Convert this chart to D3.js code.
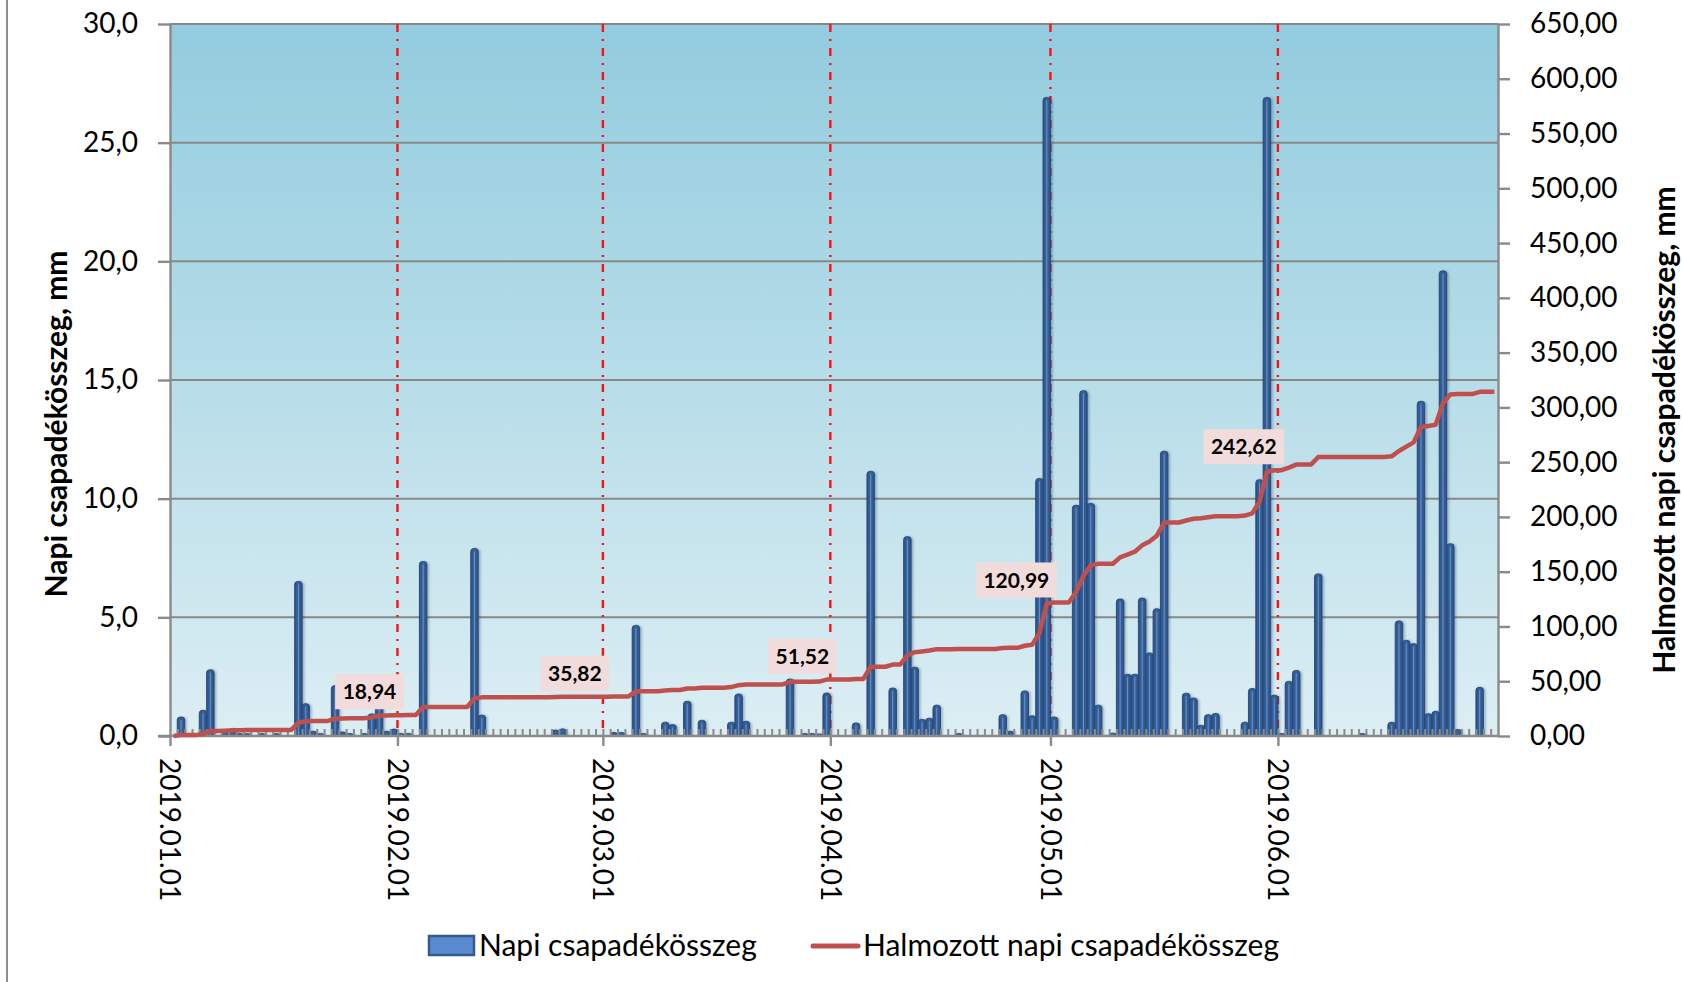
<!DOCTYPE html>
<html>
<head>
<meta charset="utf-8">
<script src="https://cdn.jsdelivr.net/npm/d3@7"></script>
<style>
  html, body { margin: 0; padding: 0; background: #fff; }
  svg { display: block; font-family: Lato, "Open Sans", sans-serif; }
</style>
</head>
<body>
<svg id="chart" width="1683" height="982"></svg>
<script>
// Daily precipitation (mm), one value per day, month by month
const janRain = [0, 0.8, 0, 0, 1.08, 2.79, 0, 0.2, 0.3, 0.1, 0.1, 0, 0.1, 0, 0.1, 0, 0, 6.51, 1.36, 0.2, 0.1, 0, 2.12, 0.17, 0.1, 0, 0.1, 0.93, 1.29, 0.2, 0.29];
const febRain = [0.1, 0.1, 0, 7.35, 0, 0, 0, 0, 0, 0, 7.9, 0.88, 0, 0, 0, 0, 0, 0, 0, 0, 0, 0.25, 0.3, 0, 0, 0, 0, 0];
const marRain = [0, 0.15, 0.15, 0, 4.66, 0.1, 0, 0, 0.58, 0.48, 0, 1.46, 0, 0.66, 0, 0, 0, 0.58, 1.77, 0.62, 0, 0, 0, 0, 0, 2.4, 0, 0.1, 0.1, 0.08, 1.81];
const aprRain = [0, 0, 0, 0.55, 0, 11.15, 0, 0, 2.02, 0, 8.4, 2.9, 0.7, 0.75, 1.3, 0, 0, 0.1, 0, 0, 0, 0, 0, 0.9, 0.2, 0, 1.9, 0.85, 10.85, 26.9];
const mayRain = [0.8, 0, 0, 9.72, 14.55, 9.8, 1.3, 0, 0.12, 5.77, 2.6, 2.6, 5.81, 3.5, 5.36, 12.0, 0, 0, 1.8, 1.6, 0.45, 0.9, 0.95, 0, 0, 0, 0.58, 2.0, 10.8, 26.9, 1.72];
const junRain = [0.1, 2.3, 2.76, 0, 0, 6.83, 0, 0, 0, 0, 0, 0.1, 0, 0, 0, 0.58, 4.85, 4.03, 3.89, 14.1, 0.94, 1.04, 19.6, 8.1, 0.27, 0, 0, 2.05, 0, 0];

// Axis ticks
const leftTicks = [0, 5, 10, 15, 20, 25, 30];
const rightTicks = [0, 50, 100, 150, 200, 250, 300, 350, 400, 450, 500, 550, 600, 650];

// Days whose running total is labelled (month ends)
const labelledDays = ["2019-01-31", "2019-02-28", "2019-03-31", "2019-04-30", "2019-05-31"];

const seriesNames = ["Napi csapadékösszeg", "Halmozott napi csapadékösszeg"];
const leftTitle = "Napi csapadékösszeg, mm";
const rightTitle = "Halmozott napi csapadékösszeg, mm";

const dailyRain = [].concat(janRain, febRain, marRain, aprRain, mayRain, junRain);
const cumulative = Array.from(d3.cumsum(dailyRain));

const start = new Date(Date.UTC(2019, 0, 1));
const end = new Date(Date.UTC(2019, 6, 1));
const days = d3.utcDay.range(start, end);
const monthStarts = d3.utcMonth.range(start, end);

// Layout
const plot = { left: 170, right: 1498, top: 24, bottom: 736 };

const svg = d3.select("#chart");
const x = d3.scaleUtc().domain([start, end]).range([plot.left, plot.right]);
const dayW = x(d3.utcDay.offset(start, 1)) - x(start);
const cx = d => x(d) + dayW / 2;
const yL = d3.scaleLinear().domain([0, 30]).range([plot.bottom, plot.top]);
const yR = d3.scaleLinear().domain([0, 650]).range([plot.bottom, plot.top]);

const comma = (f) => (v) => f(v).replace(".", ",");
const fmt1 = comma(d3.format(".1f"));
const fmt2 = comma(d3.format(".2f"));

const defs = svg.append("defs");
const bg = defs.append("linearGradient").attr("id", "plotBg")
  .attr("x1", 0).attr("y1", 0).attr("x2", 0).attr("y2", 1);
bg.append("stop").attr("offset", "0%").attr("stop-color", "#92ccde");
bg.append("stop").attr("offset", "100%").attr("stop-color", "#dceef4");

const barGrad = defs.append("linearGradient").attr("id", "barFill")
  .attr("x1", 0).attr("y1", 0).attr("x2", 1).attr("y2", 0);
barGrad.append("stop").attr("offset", "0%").attr("stop-color", "#2c5284");
barGrad.append("stop").attr("offset", "50%").attr("stop-color", "#39649e");
barGrad.append("stop").attr("offset", "100%").attr("stop-color", "#2c5284");

const shadow = defs.append("filter").attr("id", "barShadow")
  .attr("x", "-50%").attr("y", "-5%").attr("width", "200%").attr("height", "110%");
shadow.append("feDropShadow").attr("dx", 1.5).attr("dy", 0.5)
  .attr("stdDeviation", 1.3).attr("flood-color", "#1a2a40").attr("flood-opacity", 0.35);

defs.append("clipPath").attr("id", "plotClip").append("rect")
  .attr("x", plot.left).attr("y", plot.top - 10)
  .attr("width", plot.right - plot.left).attr("height", plot.bottom - plot.top + 10);

// Outer frame line
svg.append("line").attr("x1", 7).attr("x2", 7).attr("y1", 0).attr("y2", 982)
  .attr("stroke", "#8e8e8e").attr("stroke-width", 2);

// Plot background
svg.append("rect")
  .attr("x", plot.left).attr("y", plot.top)
  .attr("width", plot.right - plot.left).attr("height", plot.bottom - plot.top)
  .attr("fill", "url(#plotBg)");

// Horizontal gridlines
svg.append("g").selectAll("line")
  .data(leftTicks.filter(t => t > 0))
  .join("line")
  .attr("x1", plot.left).attr("x2", plot.right)
  .attr("y1", d => yL(d)).attr("y2", d => yL(d))
  .attr("stroke", "#888").attr("stroke-width", 2);

// Month separators
svg.append("g").selectAll("line")
  .data(monthStarts.slice(1))
  .join("line")
  .attr("x1", d => x(d)).attr("x2", d => x(d))
  .attr("y1", plot.top).attr("y2", plot.bottom)
  .attr("stroke", "#ff1010").attr("stroke-width", 2.4)
  .attr("stroke-dasharray", "8,7,2,7");

// Daily bars
const barW = dayW * 1.02;
function barPath(x0, w, yTop, yBase) {
  const r = Math.min(3, w / 2, (yBase - yTop));
  return `M${x0},${yBase + 4}V${yTop + r}Q${x0},${yTop} ${x0 + r},${yTop}` +
         `H${x0 + w - r}Q${x0 + w},${yTop} ${x0 + w},${yTop + r}V${yBase + 4}Z`;
}
const barData = days.map((d, i) => ({ date: d, value: dailyRain[i] })).filter(d => d.value > 0);
const bars = svg.append("g").attr("clip-path", "url(#plotClip)")
  .append("g").attr("filter", "url(#barShadow)");
bars.selectAll("path")
  .data(barData)
  .join("path")
  .attr("d", d => barPath(cx(d.date) - barW / 2, barW, yL(d.value), yL(0)))
  .attr("fill", "url(#barFill)")
  .attr("stroke", "#284877").attr("stroke-width", 0.9);
svg.append("g").attr("clip-path", "url(#plotClip)").selectAll("line")
  .data(barData.filter(d => d.value > 0.3))
  .join("line")
  .attr("x1", d => cx(d.date)).attr("x2", d => cx(d.date))
  .attr("y1", d => yL(d.value) + 3).attr("y2", yL(0))
  .attr("stroke", "#6f9fe2").attr("stroke-width", 1).attr("opacity", 0.8);

// Axes
const axisColor = "#8a8a8a";
function styleAxis(g) {
  g.selectAll("path, line").attr("stroke", axisColor).attr("stroke-width", 2.4);
  g.selectAll("text").attr("fill", "#000").style("font-size", "28px")
    .style("font-family", "Lato, 'Open Sans', sans-serif");
}

// Minor day ticks (inside)
svg.append("g").attr("transform", `translate(0,${plot.bottom})`)
  .call(d3.axisBottom(x).tickValues(d3.utcDay.range(d3.utcDay.offset(start, 1), end))
    .tickSize(-7).tickSizeOuter(0).tickFormat(""))
  .call(g => g.select(".domain").remove())
  .call(g => g.selectAll("line").attr("stroke", axisColor).attr("stroke-width", 2));

// Major month ticks with rotated date labels
svg.append("g").attr("transform", `translate(0,${plot.bottom})`)
  .call(d3.axisBottom(x).tickValues(monthStarts).tickSize(10).tickSizeOuter(0)
    .tickFormat(d3.utcFormat("%Y.%m.%d")))
  .call(styleAxis)
  .call(g => g.select(".domain").attr("d", `M${plot.left - 12},0H${plot.right}`))
  .call(g => g.selectAll("text")
    .attr("transform", "rotate(90)")
    .attr("x", 22).attr("y", 0).attr("dy", "0.36em")
    .style("text-anchor", "start"));

svg.append("g").attr("transform", `translate(${plot.left},0)`)
  .call(d3.axisLeft(yL).tickValues(leftTicks).tickSize(12).tickSizeOuter(0)
    .tickPadding(20).tickFormat(fmt1))
  .call(styleAxis);

svg.append("g").attr("transform", `translate(${plot.right},0)`)
  .call(d3.axisRight(yR).tickValues(rightTicks).tickSize(12).tickSizeOuter(0)
    .tickPadding(20).tickFormat(fmt2))
  .call(styleAxis);

// Running total line
const line = d3.line()
  .x((d, i) => cx(days[i]))
  .y(d => yR(d));
svg.append("path")
  .datum(cumulative)
  .attr("d", line)
  .attr("fill", "none")
  .attr("stroke", "#c0504d")
  .attr("stroke-width", 4.5)
  .attr("stroke-linejoin", "round");

// Month-end total labels
const parseDay = d3.utcParse("%Y-%m-%d");
const labelG = svg.append("g");
labelledDays.forEach(s => {
  const d = parseDay(s);
  const i = d3.utcDay.count(start, d);
  const v = cumulative[i];
  const px = cx(d), py = yR(v);
  const g = labelG.append("g");
  const rect = g.append("rect").attr("fill", "#f2dcdb");
  const t = g.append("text").text(fmt2(v))
    .attr("font-weight", 700).attr("font-size", 21).attr("fill", "#000")
    .attr("text-anchor", "middle");
  const tw = t.node().getComputedTextLength();
  const w = tw + 15, h = 35;
  const bx = px + 10 - w, by = py - 6 - h;
  rect.attr("x", bx).attr("y", by).attr("width", w).attr("height", h);
  t.attr("x", bx + w / 2).attr("y", by + h / 2).attr("dy", "0.36em");
});

// Axis titles
svg.append("text")
  .attr("transform", "translate(56,424) rotate(-90)")
  .attr("text-anchor", "middle").attr("dy", "0.36em")
  .attr("font-weight", 700).attr("font-size", 30).attr("fill", "#000")
  .text(leftTitle);
svg.append("text")
  .attr("transform", "translate(1664,430) rotate(-90)")
  .attr("text-anchor", "middle").attr("dy", "0.36em")
  .attr("font-weight", 700).attr("font-size", 30).attr("fill", "#000")
  .text(rightTitle);

// Legend
const legend = svg.append("g");
legend.append("rect").attr("x", 429).attr("y", 936).attr("width", 45).attr("height", 19)
  .attr("fill", "#5a8ad0").attr("stroke", "#355a8c").attr("stroke-width", 2.5);
legend.append("text").attr("x", 479).attr("y", 956)
  .attr("font-size", 30).attr("fill", "#000").text(seriesNames[0]);
legend.append("line").attr("x1", 813).attr("x2", 858).attr("y1", 946).attr("y2", 946)
  .attr("stroke", "#c0504d").attr("stroke-width", 5).attr("stroke-linecap", "round");
legend.append("text").attr("x", 863).attr("y", 956)
  .attr("font-size", 30).attr("fill", "#000").text(seriesNames[1]);
</script>
</body>
</html>
